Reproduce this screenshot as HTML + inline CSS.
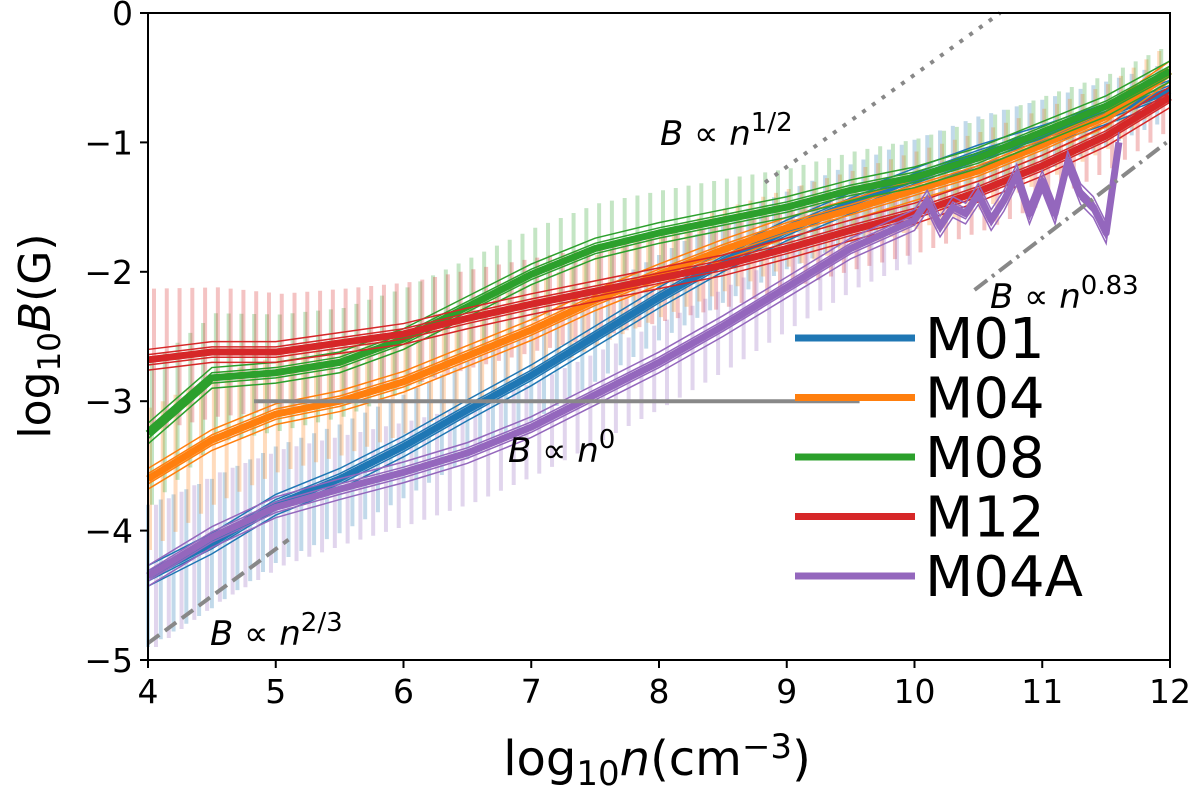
<!DOCTYPE html>
<html><head><meta charset="utf-8"><style>
body{margin:0;background:#fff}
svg{display:block;font-family:"DejaVu Sans","Liberation Sans",sans-serif}
</style></head><body>
<svg id="chart" width="1200" height="788" viewBox="0 0 1200 788">
<g id="bars"></g>
<g id="lines"></g>
<g id="refs"></g>
<rect x="148" y="13" width="1022" height="647" fill="none" stroke="#000" stroke-width="2"/>
<g id="ticks"></g>
<text x="660" y="145" font-size="34" font-style="italic">B <tspan font-style="normal">∝</tspan> n<tspan dy="-14" font-size="26" font-style="normal">1/2</tspan></text>
<text x="990" y="308" font-size="34" font-style="italic">B <tspan font-style="normal">∝</tspan> n<tspan dy="-14" font-size="26" font-style="normal">0.83</tspan></text>
<text x="508" y="462" font-size="34" font-style="italic">B <tspan font-style="normal">∝</tspan> n<tspan dy="-14" font-size="26" font-style="normal">0</tspan></text>
<text x="210" y="645" font-size="34" font-style="italic">B <tspan font-style="normal">∝</tspan> n<tspan dy="-14" font-size="26" font-style="normal">2/3</tspan></text>
<g id="legend"></g>
<text x="657" y="775" font-size="48" text-anchor="middle">log<tspan dy="10" font-size="34">10</tspan><tspan dy="-10" font-style="italic">n</tspan>(cm<tspan dy="-17" font-size="34">−3</tspan><tspan dy="17">)</tspan></text>
<text transform="translate(50,336) rotate(-90)" font-size="44" text-anchor="middle">log<tspan dy="10" font-size="31">10</tspan><tspan dy="-10" font-style="italic">B</tspan>(G)</text>
</svg>
<script>
const xGrid=[4,4.5,5,5.5,6,6.5,7,7.5,8,8.5,9,9.5,10,10.5,11,11.5,12];
const names=["M01","M04","M08","M12","M04A"];
const colors=["#1f77b4","#ff7f0e","#2ca02c","#d62728","#9467bd"];
const m01=[-4.35,-4.1,-3.8,-3.6,-3.35,-3.07,-2.8,-2.5,-2.2,-1.92,-1.68,-1.47,-1.28,-1.1,-0.95,-0.78,-0.6];
const m04=[-3.6,-3.3,-3.1,-3.0,-2.85,-2.65,-2.45,-2.22,-2.02,-1.83,-1.66,-1.52,-1.37,-1.22,-1.02,-0.8,-0.45];
const m08=[-3.25,-2.82,-2.78,-2.7,-2.52,-2.27,-2.02,-1.82,-1.7,-1.6,-1.5,-1.37,-1.27,-1.12,-0.92,-0.72,-0.45];
const m12=[-2.68,-2.62,-2.62,-2.55,-2.48,-2.36,-2.25,-2.15,-2.05,-1.95,-1.82,-1.68,-1.55,-1.38,-1.18,-0.95,-0.65];
const m04a=[-4.35,-4.05,-3.82,-3.68,-3.55,-3.4,-3.2,-2.95,-2.7,-2.42,-2.12,-1.82,-1.6];
const m04aNoiseX=[10.1,10.2,10.3,10.4,10.5,10.6,10.7,10.8,10.9,11.0,11.1,11.2,11.3,11.4,11.5,11.6];
const m04aNoise=[-1.45,-1.65,-1.5,-1.55,-1.4,-1.6,-1.45,-1.25,-1.55,-1.3,-1.55,-1.15,-1.4,-1.5,-1.7,-1.0];
const errHalf=[0.55,0.5,0.45,0.42,0.4,0.38,0.36,0.35,0.33,0.32,0.3,0.3,0.3,0.3,0.28,0.25,0.22];
const thinOffsets=[0.04,-0.04,0.08,-0.08];
const series=[m01,m04,m08,m12,m04a];
const xTicks=[4,5,6,7,8,9,10,11,12];
const yTicks=[0,-1,-2,-3,-4,-5];
const yTickLabels=["0","−1","−2","−3","−4","−5"];
const refHalfX=[8.83,10.67],refHalfY=[-1.31,0];
const refZeroX=[4.83,9.57],refZeroY=[-3,-3];
const ref083X=[10.47,12],ref083Y=[-2.14,-0.98];
const ref23X=[4,5.1],ref23Y=[-4.87,-4.07];
const X=v=>148+(v-4)*127.75, Y=v=>13-v*129.4;
const NS="http://www.w3.org/2000/svg";
function mk(tag,parent,attrs){const e=document.createElementNS(NS,tag);for(const k in attrs)e.setAttribute(k,attrs[k]);parent.appendChild(e);return e;}
const bars=document.getElementById('bars'),lines=document.getElementById('lines'),refs=document.getElementById('refs'),ticks=document.getElementById('ticks'),legend=document.getElementById('legend');
series.forEach((s,si)=>{
  for(let i=0;i<s.length-1;i++){
    for(let k=0;k<5;k++){
      const f=k/5;
      const xv=xGrid[i]+f*(xGrid[i+1]-xGrid[i]);
      const yv=s[i]+f*(s[i+1]-s[i]);
      const ev=errHalf[i]+f*(errHalf[i+1]-errHalf[i]);
      const e=mk('line',bars,{x1:X(xv)+si*2,x2:X(xv)+si*2,y1:Y(yv-ev),y2:Y(yv+ev),stroke:colors[si],'stroke-width':4,'stroke-opacity':0.28});
      
      
    }
  }
});
series.forEach((s,si)=>{
  let pts=s.map((v,i)=>[X(xGrid[i]),Y(v)]);
  if(si===4) m04aNoise.forEach((v,i)=>pts.push([X(m04aNoiseX[i]),Y(v)]));
  thinOffsets.forEach(o=>{
    const p=mk('polyline',lines,{points:pts.map(q=>q[0]+','+(q[1]-o*129.4)).join(' '),fill:'none',stroke:colors[si],'stroke-width':1.5});
    
    
  });
  const p=mk('polyline',lines,{points:pts.map(q=>q.join(',')).join(' '),fill:'none',stroke:colors[si],'stroke-width':7,'stroke-linejoin':'round'});
  
  
});
[[refHalfX,refHalfY,'4,8','ref-half'],[refZeroX,refZeroY,'','ref-zero'],[ref083X,ref083Y,'16,6,3,6','ref-083'],[ref23X,ref23Y,'14,7','ref-twothirds']].forEach(r=>{
  const l=mk('line',refs,{x1:X(r[0][0]),x2:X(r[0][1]),y1:Y(r[1][0]),y2:Y(r[1][1]),stroke:'#888','stroke-width':4,'stroke-dasharray':r[2]});
  
  
});
xTicks.forEach(t=>{
  const l=mk('line',ticks,{x1:X(t),x2:X(t),y1:660,y2:668,stroke:'#000','stroke-width':2});
  
  
  const tx=mk('text',ticks,{x:X(t),y:703,'font-size':33,'text-anchor':'middle'});tx.textContent=t;
  
  
});
yTicks.forEach((t,i)=>{
  const l=mk('line',ticks,{x1:140,x2:148,y1:Y(t),y2:Y(t),stroke:'#000','stroke-width':2});
  
  
  const tx=mk('text',ticks,{x:133,y:Y(t)+12,'font-size':33,'text-anchor':'end'});tx.textContent=yTickLabels[i];
  
  
});
names.forEach((n,i)=>{
  const y=338+i*59.5;
  const l=mk('line',legend,{x1:795,x2:915,y1:y,y2:y,stroke:colors[i],'stroke-width':7});
  
  
  const t=mk('text',legend,{x:925,y:y+20,'font-size':56});t.textContent=n;
  
  
});
</script>
</body></html>
